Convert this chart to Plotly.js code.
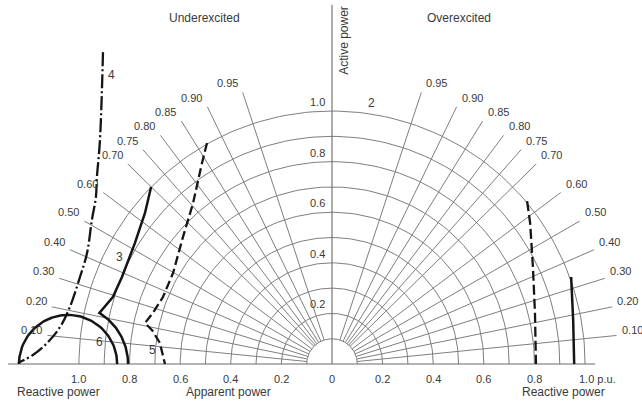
<!DOCTYPE html>
<html>
<head>
<meta charset="utf-8">
<script src="https://cdn.plot.ly/plotly-3.0.1.min.js"></script>
<style>
  html, body { margin: 0; padding: 0; background: #fff; }
  #chart { width: 642px; height: 402px; }
</style>
</head>
<body>
<div id="chart"></div>
<script>
// Power-factor rays (cos phi) drawn on both sides of the active-power axis
const powerFactors = [0.95, 0.90, 0.85, 0.80, 0.75, 0.70, 0.60, 0.50, 0.40, 0.30, 0.20, 0.10];
const powerFactorLabels = ['0.95', '0.90', '0.85', '0.80', '0.75', '0.70', '0.60', '0.50', '0.40', '0.30', '0.20', '0.10'];

// Apparent-power circles, p.u.
const apparentRadii = [0.1, 0.2, 0.3, 0.4, 0.5, 0.6, 0.7, 0.8, 0.9, 1.0];

// Active-power scale along the vertical axis
const activeTicks = [0.2, 0.4, 0.6, 0.8, 1.0];
const activeTickLabels = ['0.2', '0.4', '0.6', '0.8', '1.0'];

// Reactive-power scale along the base line (underexcited to the left)
const reactiveTicks = [-1.0, -0.8, -0.6, -0.4, -0.2, 0, 0.2, 0.4, 0.6, 0.8, 1.0];
const reactiveTickLabels = ['1.0', '0.8', '0.6', '0.4', '0.2', '0', '0.2', '0.4', '0.6', '0.8', '1.0 p.u.'];

// Limit curves: reactive power Q and active power P, p.u.
const curve3Q = [-0.715, -0.739, -0.779, -0.830, -0.866, -0.917];
const curve3P = [0.700, 0.597, 0.478, 0.344, 0.265, 0.206];

const curve4Q = [-0.905, -0.917, -0.929, -0.933, -0.949, -0.968, -0.996, -1.036, -1.075, -1.126, -1.182, -1.241];
const curve4P = [1.233, 0.885, 0.739, 0.660, 0.569, 0.439, 0.344, 0.225, 0.146, 0.083, 0.036, 0.004];

const curve5Q = [-0.494, -0.514, -0.549, -0.589, -0.628, -0.668, -0.708, -0.739, -0.711, -0.680, -0.664, -0.660];
const curve5P = [0.874, 0.794, 0.636, 0.502, 0.360, 0.265, 0.202, 0.162, 0.134, 0.083, 0.016, 0.000];

const overDashedQ = [0.771, 0.783, 0.794, 0.802, 0.806];
const overDashedP = [0.644, 0.557, 0.383, 0.202, 0.000];

const overSolidQ = [0.945, 0.953, 0.957];
const overSolidP = [0.344, 0.174, 0.000];

// Circle 6: centre on the base line, inner and outer radius (p.u.)
const circle6Center = -1.043;
const circle6Inner = 0.194;
const circle6Outer = 0.237;

// ---- geometry helpers -------------------------------------------------
function arcPoints(cx, r, a0, a1, n) {
  const xs = [], ys = [];
  for (let i = 0; i <= n; i++) {
    const a = a0 + (a1 - a0) * i / n;
    xs.push(cx + r * Math.cos(a));
    ys.push(r * Math.sin(a));
  }
  return { x: xs, y: ys };
}

const GRID = '#7e7e7e';
const INK = '#151515';
const TEXT = '#3a3a3a';
const FONT = 'Liberation Sans, Arial, Helvetica, sans-serif';
const rayEnd = 1.13;

// apparent-power semicircles
const gridArcX = [], gridArcY = [];
apparentRadii.forEach(r => {
  const p = arcPoints(0, r, 0, Math.PI, 120);
  gridArcX.push(...p.x, null);
  gridArcY.push(...p.y, null);
});

// power-factor rays, both sides
const rayX = [], rayY = [];
powerFactors.forEach(pf => {
  const s = Math.sqrt(1 - pf * pf);
  [-1, 1].forEach(side => {
    rayX.push(side * 0.1 * s, side * rayEnd * s, null);
    rayY.push(0.1 * pf, rayEnd * pf, null);
  });
});

// curve 3 continues into the outer arc of circle 6 down to the base line
const kQ = curve3Q[curve3Q.length - 1] - circle6Center;
const kP = curve3P[curve3P.length - 1];
const kinkAngle = Math.atan2(kP, kQ);
const outerArc = arcPoints(circle6Center, circle6Outer, kinkAngle, 0, 40);
const innerArc = arcPoints(circle6Center, circle6Inner, 0, Math.PI, 80);

const traces = [
  { x: gridArcX, y: gridArcY, mode: 'lines', line: { color: GRID, width: 1 }, hoverinfo: 'skip' },
  { x: rayX, y: rayY, mode: 'lines', line: { color: GRID, width: 1 }, hoverinfo: 'skip' },
  // axes
  { x: [0, 0], y: [0, 1.42], mode: 'lines', line: { color: '#6a6a6a', width: 1.1 }, hoverinfo: 'skip' },
  { x: [-1.28, 1.04], y: [0, 0], mode: 'lines', line: { color: '#6a6a6a', width: 1.1 }, hoverinfo: 'skip' },
  // limit curves
  { x: curve3Q.concat(outerArc.x), y: curve3P.concat(outerArc.y), mode: 'lines',
    line: { color: INK, width: 2.5 }, hoverinfo: 'skip' },
  { x: innerArc.x, y: innerArc.y, mode: 'lines', line: { color: INK, width: 2.5 }, hoverinfo: 'skip' },
  { x: curve4Q, y: curve4P, mode: 'lines', line: { color: INK, width: 2.3, dash: '14px,3px,2px,3px', shape: 'spline' }, hoverinfo: 'skip' },
  { x: curve5Q, y: curve5P, mode: 'lines', line: { color: INK, width: 2.3, dash: '9px,4px' }, hoverinfo: 'skip' },
  { x: overDashedQ, y: overDashedP, mode: 'lines', line: { color: INK, width: 2.3, dash: '10px,4px' }, hoverinfo: 'skip' },
  { x: overSolidQ, y: overSolidP, mode: 'lines', line: { color: INK, width: 2.5 }, hoverinfo: 'skip' }
];

const ann = [];
function label(text, x, y, opts, size) {
  ann.push(Object.assign({
    text: text, x: x, y: y, xref: 'x', yref: 'y', showarrow: false,
    font: { family: FONT, size: size || 11, color: TEXT }
  }, opts || {}));
}

// power-factor labels at the ends of the rays
powerFactors.forEach((pf, i) => {
  const s = Math.sqrt(1 - pf * pf);
  const ys = 4 + 5 * Math.min(1, pf / 0.5);
  label(powerFactorLabels[i], -rayEnd * s, rayEnd * pf,
    { xanchor: 'right', yanchor: 'middle', xshift: -3, yshift: ys });
  label(powerFactorLabels[i], rayEnd * s, rayEnd * pf,
    { xanchor: 'left', yanchor: 'middle', xshift: 3, yshift: ys });
});

// active-power scale
activeTicks.forEach((v, i) => {
  label(activeTickLabels[i], 0, v, { xanchor: 'right', yanchor: 'middle', xshift: -5, yshift: 9 });
});

// reactive / apparent power scale on the base line
reactiveTicks.forEach((v, i) => {
  const last = i === reactiveTicks.length - 1;
  label(reactiveTickLabels[i], v, 0,
    last ? { xanchor: 'left', yanchor: 'top', xshift: -8, yshift: -7 }
         : { xanchor: 'center', yanchor: 'top', yshift: -7 });
});

label('Reactive power', -1.079, -0.111, { xanchor: 'center', yanchor: 'middle' }, 12);
label('Apparent power', -0.411, -0.111, { xanchor: 'center', yanchor: 'middle' }, 12);
label('Reactive power', 0.913, -0.111, { xanchor: 'center', yanchor: 'middle' }, 12);
label('Underexcited', -0.502, 1.368, { xanchor: 'center', yanchor: 'middle' }, 12);
label('Overexcited', 0.502, 1.368, { xanchor: 'center', yanchor: 'middle' }, 12);
label('Active power', 0.047, 1.281, { xanchor: 'center', yanchor: 'middle', textangle: -90 }, 12);

// curve numbers
label('2', 0.158, 1.032, { xanchor: 'center', yanchor: 'middle' }, 12);
label('3', -0.838, 0.423, { xanchor: 'center', yanchor: 'middle' }, 12);
label('4', -0.870, 1.142, { xanchor: 'center', yanchor: 'middle' }, 12);
label('5', -0.708, 0.055, { xanchor: 'center', yanchor: 'middle' }, 12);
label('6', -0.917, 0.087, { xanchor: 'center', yanchor: 'middle' }, 12);

const layout = {
  width: 642, height: 402,
  margin: { l: 0, r: 0, t: 0, b: 0 },
  paper_bgcolor: '#ffffff', plot_bgcolor: '#ffffff',
  showlegend: false,
  xaxis: { range: [-1.312, 1.225], visible: false, fixedrange: true },
  yaxis: { range: [-0.150, 1.439], visible: false, fixedrange: true },
  annotations: ann
};

Plotly.newPlot('chart', traces, layout, { displayModeBar: false, staticPlot: true });
</script>
</body>
</html>
